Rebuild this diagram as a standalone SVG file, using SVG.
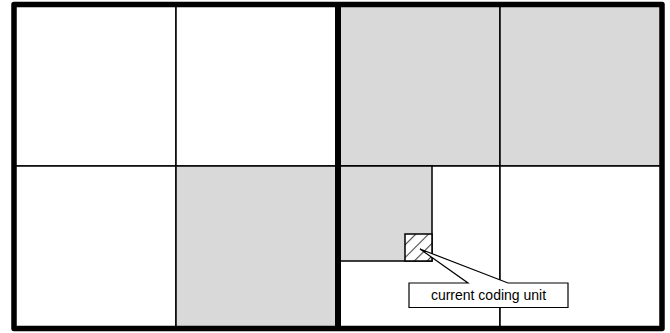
<svg xmlns="http://www.w3.org/2000/svg" width="670" height="333" viewBox="0 0 670 333">
<style>
.cell{stroke:#000;stroke-width:1.5}
.g{fill:#d9d9d9}
.w{fill:#fff}
.lbl{font-family:"Liberation Sans",Arial,sans-serif;font-size:14px;fill:#000}
</style>
<defs>
<pattern id="hatch" patternUnits="userSpaceOnUse" width="9" height="9" patternTransform="rotate(45)">
<rect width="9" height="9" fill="#fff"/>
<line x1="0" y1="0" x2="0" y2="9" stroke="#444" stroke-width="2.2"/>
</pattern>
</defs>
<rect width="670" height="333" fill="#fff"/>
<g id="q-tl"><rect class="cell w" x="14" y="4.5" width="162" height="161.5"/></g>
<g id="q-tr"><rect class="cell w" x="176" y="4.5" width="162" height="161.5"/></g>
<g id="q-bl"><rect class="cell w" x="14" y="166" width="162" height="162.5"/></g>
<g id="q-br"><rect class="cell g" x="176" y="166" width="162" height="162.5"/></g>
<g id="r-tl"><rect class="cell g" x="338" y="4.5" width="162" height="161.5"/></g>
<g id="r-tr"><rect class="cell g" x="500" y="4.5" width="162" height="161.5"/></g>
<g id="r-bl"><rect class="cell w" x="338" y="166" width="162" height="162.5"/></g>
<g id="r-br"><rect class="cell w" x="500" y="166" width="162" height="162.5"/></g>
<g id="sub"><rect class="cell g" x="338" y="166" width="94" height="95"/></g>
<g id="current"><rect x="405" y="234" width="27" height="27" fill="url(#hatch)" stroke="#000" stroke-width="1.5"/></g>
<g id="frame" fill="none" stroke="#000">
<rect x="14" y="4.5" width="648" height="324" stroke-width="5.5" stroke-linejoin="round"/>
<line x1="338" y1="4.5" x2="338" y2="328.5" stroke-width="6"/>
</g>
<g id="connectors">
<path d="M409,283 L468,283 L420,249 L508,283 L568,283 L568,307.5 L409,307.5 Z" fill="#fff" stroke="#000" stroke-width="1.2" stroke-linejoin="miter"/>
</g>
<g id="label"><text class="lbl" x="488.5" y="300" text-anchor="middle">current coding unit</text></g>
</svg>
